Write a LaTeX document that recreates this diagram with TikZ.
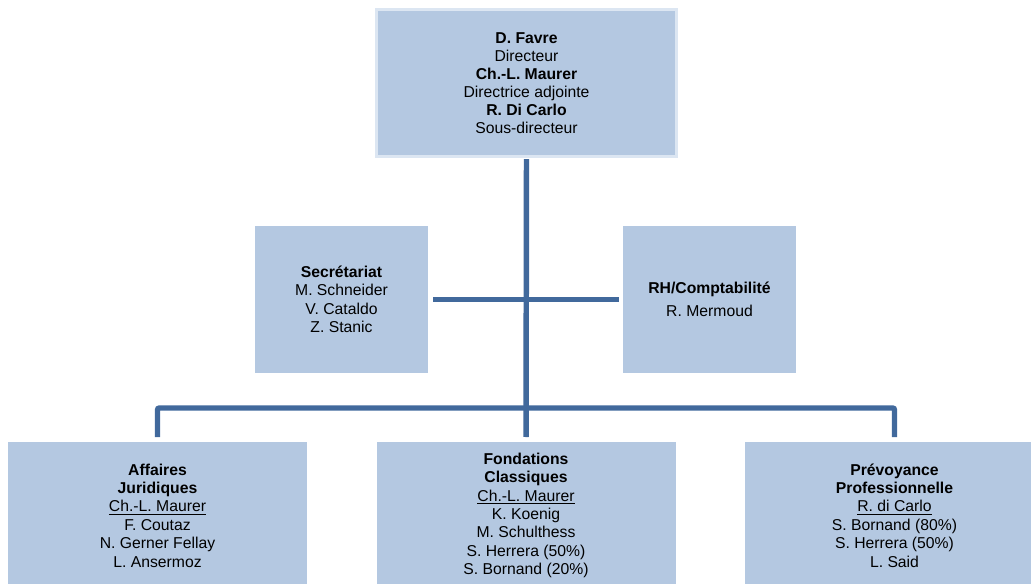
\documentclass[tikz,border=0pt]{standalone}
\usepackage{fontspec}
\setmainfont{Liberation Sans}
\definecolor{boxfill}{HTML}{B4C8E1}
\definecolor{boxedge}{HTML}{DCE6F2}
\definecolor{linkc}{HTML}{41699C}
\begin{document}
\begin{tikzpicture}[x=0.75pt,y=-0.75pt,
  box/.style={fill=boxfill, draw=none, inner sep=0pt, outer sep=0pt, align=center,
    font=\fontsize{11.8}{13.8}\selectfont, minimum height=110.25pt},
  sidebox/.style={box, minimum width=129.75pt},
  lowbox/.style={box, minimum width=224.25pt},
  link/.style={draw=linkc, line width=4.1pt, rounded corners=1.5pt}]
\useasboundingbox (0,0) rectangle (1031,584);

\node[box, draw=boxedge, line width=2.25pt, minimum width=225pt, font=\fontsize{11.8}{13.5}\selectfont] (dir) at (526.5,83)
  {\textbf{D. Favre}\\Directeur\\\textbf{Ch.-L. Maurer}\\Directrice adjointe\\\textbf{R. Di Carlo}\\Sous-directeur};

\node[sidebox] (sec) at (341.5,299.5)
  {\textbf{Secrétariat}\\M. Schneider\\V. Cataldo\\Z. Stanic};
\node[sidebox] (rh) at (709.5,299.5)
  {\textbf{RH/Comptabilité}\\[3pt]R. Mermoud};

\node[lowbox] (aj) at (157.5,515.5)
  {\textbf{Affaires}\\\textbf{Juridiques}\\\underline{Ch.-L. Maurer}\\F. Coutaz\\N. Gerner Fellay\\L. Ansermoz};
\node[lowbox] (fc) at (526,515.5)
  {\textbf{Fondations}\\\textbf{Classiques}\\\underline{Ch.-L. Maurer}\\K. Koenig\\M. Schulthess\\S. Herrera (50\%)\\S. Bornand (20\%)};
\node[lowbox] (pp) at (894.5,515.5)
  {\textbf{Prévoyance}\\\textbf{Professionnelle}\\\underline{R. di Carlo}\\S. Bornand (80\%)\\S. Herrera (50\%)\\L. Said};

\coordinate (hub) at (526,408);

\draw[link, shorten <=2pt, shorten >=3.75pt] (dir.south) -- (fc.north);
\draw[link, shorten <=3.75pt, shorten >=3pt] (sec.east) -- (rh.west);
\draw[link, shorten <=3.75pt, shorten >=3.75pt] (aj.north) |- (hub) -| (pp.north);
\end{tikzpicture}
\end{document}
